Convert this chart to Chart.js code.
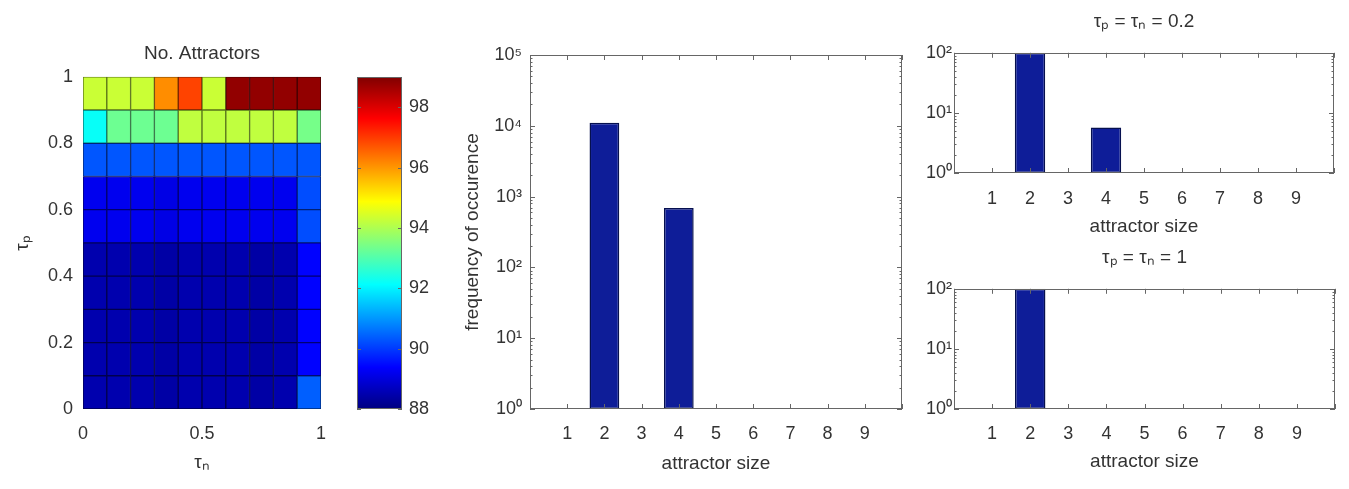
<!DOCTYPE html>
<html>
<head>
<meta charset="utf-8">
<title>No. Attractors</title>
<script src="https://cdn.jsdelivr.net/npm/chart.js@4"></script>
<style>
  body { margin: 0; background: #fff; }
  #wrap { position: relative; width: 1349px; height: 489px; overflow: hidden; }
  .panel { position: absolute; }
  .panel canvas { display: block; }
</style>
</head>
<body>
<div id="wrap">
  <div class="panel" style="left:0;top:0"><canvas id="heatmap" width="345" height="489"></canvas></div>
  <div class="panel" style="left:345px;top:0"><canvas id="colorbar" width="110" height="489"></canvas></div>
  <div class="panel" style="left:455px;top:0"><canvas id="freq-all" width="465" height="489"></canvas></div>
  <div class="panel" style="left:920px;top:0"><canvas id="freq-02" width="429" height="240"></canvas></div>
  <div class="panel" style="left:920px;top:240px"><canvas id="freq-1" width="429" height="249"></canvas></div>
</div>
<script>
// **********************************************
// Data

// cell edges of the tau_n / tau_p sweep
const tauNEdges = [0, 0.1, 0.2, 0.3, 0.4, 0.5, 0.6, 0.7, 0.8, 0.9, 1];
const tauPEdges = [0, 0.1, 0.2, 0.3, 0.4, 0.5, 0.6, 0.7, 0.8, 0.9, 1];

// number of attractors, one row per tau_p band (lowest band first),
// one column per tau_n band
const noAttractors = [
    [88.5, 88.5, 88.5, 88.4, 88.5, 88.5, 88.5, 88.4, 88.5, 90.4],
    [88.5, 88.5, 88.5, 88.4, 88.5, 88.5, 88.5, 88.4, 88.5, 89.4],
    [88.5, 88.5, 88.5, 88.4, 88.5, 88.5, 88.5, 88.4, 88.5, 89.4],
    [88.5, 88.5, 88.5, 88.4, 88.5, 88.5, 88.5, 88.4, 88.5, 89.4],
    [88.5, 88.5, 88.5, 88.4, 88.5, 88.5, 88.5, 88.4, 88.5, 89.4],
    [89.2, 89.2, 89.2, 89.1, 89.2, 89.2, 89.2, 89.2, 89.2, 90.2],
    [89.2, 89.2, 89.2, 89.1, 89.2, 89.2, 89.2, 89.2, 89.2, 90.2],
    [90.3, 90.3, 90.3, 90.3, 90.3, 90.3, 90.3, 90.3, 90.3, 90.3],
    [92.2, 93.3, 93.3, 93.3, 94.2, 94.2, 94.2, 94.2, 94.2, 93.4],
    [94.3, 94.3, 94.3, 96.1, 96.9, 94.3, 98.8, 98.8, 98.8, 98.8]
];

// colorbar limits and labels
const colorbarMin = 88;
const colorbarMax = 99;
const colorbarTicks = [88, 90, 92, 94, 96, 98];

// attractor size histograms
const attractorSizes = [1, 2, 3, 4, 5, 6, 7, 8, 9];
const freqAll = [0, 11000, 0, 690, 0, 0, 0, 0, 0];
const freqTau02 = [0, 100, 0, 5.7, 0, 0, 0, 0, 0];
const freqTau1 = [0, 100, 0, 0, 0, 0, 0, 0, 0];


// **********************************************
// Helpers

Chart.defaults.font.family = "'Liberation Sans', Arial, sans-serif";
Chart.defaults.font.size = 18;
Chart.defaults.color = '#333';

// matlab jet colormap
function jetRgb(v) {
    let t = (v - colorbarMin) / (colorbarMax - colorbarMin);
    t = Math.min(1, Math.max(0, t));
    const c = k => Math.min(1, Math.max(0, 1.5 - Math.abs(4 * t - k)));
    return [c(3), c(2), c(1)];
}
function jet(v, shade) {
    const s = shade || 1;
    const [r, g, b] = jetRgb(v).map(x => Math.round(255 * x * s));
    return `rgb(${r},${g},${b})`;
}

// 10^n labels for log axes
const sup = ['\u2070', '\u00b9', '\u00b2', '\u00b3', '\u2074', '\u2075', '\u2076'];
function powerLabel(v) {
    const e = Math.round(Math.log10(v));
    if (Math.abs(v - Math.pow(10, e)) > 1e-6 * v) return '';
    return '10' + sup[e];
}
function wholeSignificand(v) {
    const s = v / Math.pow(10, Math.floor(Math.log10(v) + 1e-9));
    return Math.abs(s - Math.round(s)) < 1e-6;
}
const plainNumber = v => String(Number(v.toFixed(2)));

// boxed axes with inward ticks, like matlab
const matlabAxes = {
    id: 'matlabAxes',
    defaults: { show: false, color: '#666', tickLength: 5, minor: false },
    afterDatasetsDraw(chart, args, opts) {
        if (!opts.show) return;
        const { ctx, chartArea: area, scales } = chart;
        const len = opts.tickLength;
        ctx.save();
        ctx.strokeStyle = opts.color;
        ctx.lineWidth = 1;
        ctx.beginPath();
        if (scales.x.options.display) {
            for (const tick of scales.x.ticks) {
                const px = Math.round(scales.x.getPixelForValue(tick.value)) + 0.5;
                ctx.moveTo(px, area.bottom); ctx.lineTo(px, area.bottom - len);
                ctx.moveTo(px, area.top); ctx.lineTo(px, area.top + len);
            }
        }
        for (const tick of scales.y.ticks) {
            let l;
            if (tick.label !== '') l = len;
            else if (opts.minor && wholeSignificand(tick.value)) l = len / 2;
            else continue;
            const py = Math.round(scales.y.getPixelForValue(tick.value)) + 0.5;
            ctx.moveTo(area.left, py); ctx.lineTo(area.left + l, py);
            ctx.moveTo(area.right, py); ctx.lineTo(area.right - l, py);
        }
        ctx.stroke();
        ctx.strokeRect(Math.round(area.left) + 0.5, Math.round(area.top) + 0.5,
            Math.round(area.width) - 1, Math.round(area.height) - 1);
        ctx.restore();
    }
};
Chart.register(matlabAxes);

const fixWidth = w => scale => { scale.width = w; };
const fixHeight = h => scale => { scale.height = h; };
const noGrid = { display: false, drawTicks: false };


// **********************************************
// Heatmap (No. Attractors)

let heatDatasets = [];
for (let r = 0; r < noAttractors.length; r++) {
    heatDatasets.push({
        data: noAttractors[r].map((v, c) => ({
            x: (tauNEdges[c] + tauNEdges[c + 1]) / 2,
            y: [tauPEdges[r], tauPEdges[r + 1]]
        })),
        backgroundColor: noAttractors[r].map(v => jet(v)),
        borderColor: noAttractors[r].map(v => jet(v, 0.45)),
        borderWidth: 1,
        borderSkipped: false,
        grouped: false,
        barPercentage: 1,
        categoryPercentage: 1
    });
}

let heatChart = new Chart(document.getElementById('heatmap'), {
    type: 'bar',
    data: { datasets: heatDatasets },
    options: {
        responsive: false,
        animation: false,
        events: [],
        layout: { padding: { left: 0, right: 24, top: 0, bottom: 0 } },
        plugins: {
            legend: { display: false },
            tooltip: { enabled: false },
            title: {
                display: true,
                fullSize: false,
                text: 'No. Attractors',
                font: { size: 19, weight: 'normal' },
                padding: { top: 42, bottom: 12 }
            }
        },
        scales: {
            x: {
                type: 'linear', min: 0, max: 1, offset: false,
                grid: noGrid, border: { display: false },
                ticks: { stepSize: 0.5, padding: 14, callback: plainNumber },
                title: { display: true, text: '\u03c4\u2099', font: { size: 19 }, padding: { bottom: 15 } },
                afterFit: fixHeight(80)
            },
            y: {
                min: 0, max: 1,
                grid: noGrid, border: { display: false },
                ticks: { stepSize: 0.2, padding: 10, callback: plainNumber },
                title: { display: true, text: '\u03c4\u209a', font: { size: 19 }, padding: { top: 11 } },
                afterFit: fixWidth(83)
            }
        }
    }
});


// **********************************************
// Colorbar

function jetGradient(context) {
    const area = context.chart.chartArea;
    if (!area) return 'blue';
    const g = context.chart.ctx.createLinearGradient(0, area.bottom, 0, area.top);
    const stops = [0, 0.125, 0.375, 0.625, 0.875, 1];
    for (const s of stops) {
        g.addColorStop(s, jet(colorbarMin + s * (colorbarMax - colorbarMin)));
    }
    return g;
}

let colorbarChart = new Chart(document.getElementById('colorbar'), {
    type: 'bar',
    data: {
        labels: [''],
        datasets: [{
            data: [[colorbarMin, colorbarMax]],
            backgroundColor: jetGradient,
            borderWidth: 0,
            barPercentage: 1,
            categoryPercentage: 1
        }]
    },
    options: {
        responsive: false,
        animation: false,
        events: [],
        layout: { padding: { left: 12, right: 0, top: 77, bottom: 80 } },
        plugins: {
            legend: { display: false },
            tooltip: { enabled: false },
            matlabAxes: { show: true, tickLength: 4 }
        },
        scales: {
            x: { display: false },
            y: {
                position: 'right', min: colorbarMin, max: colorbarMax,
                grid: noGrid, border: { display: false },
                ticks: {
                    stepSize: 2, padding: 7,
                    callback: v => colorbarTicks.includes(v) ? v : ''
                },
                afterFit: fixWidth(53)
            }
        }
    }
});


// **********************************************
// Attractor size histograms (log scale)

function makeFreqChart(id, values, cfg) {
    return new Chart(document.getElementById(id), {
        type: 'bar',
        data: {
            datasets: [{
                data: attractorSizes.map((s, i) => ({ x: s, y: values[i] > 0 ? values[i] : null })),
                backgroundColor: '#0e1d98',
                borderColor: '#06104f',
                borderWidth: 1.5,
                borderSkipped: false,
                barPercentage: 0.8,
                categoryPercentage: 1
            }]
        },
        options: {
            responsive: false,
            animation: false,
            events: [],
            layout: { padding: cfg.padding },
            plugins: {
                legend: { display: false },
                tooltip: { enabled: false },
                title: cfg.title ? {
                    display: true,
                    fullSize: false,
                    text: cfg.title,
                    font: { size: 19, weight: 'normal' },
                    padding: cfg.titlePadding
                } : { display: false },
                matlabAxes: { show: true, minor: true, tickLength: 5 }
            },
            scales: {
                x: {
                    type: 'linear', min: 0, max: 10, offset: false,
                    grid: noGrid, border: { display: false },
                    ticks: {
                        stepSize: 1, padding: cfg.xTickPad,
                        callback: v => (v >= 1 && v <= 9) ? v : ''
                    },
                    title: { display: true, text: 'attractor size', font: { size: 19 }, padding: { bottom: cfg.xTitlePad } },
                    afterFit: fixHeight(cfg.xHeight)
                },
                y: {
                    type: 'logarithmic', min: 1, max: cfg.yMax,
                    grid: noGrid, border: { display: false },
                    ticks: { autoSkip: false, padding: cfg.yTickPad, callback: powerLabel },
                    title: cfg.yTitle ? { display: true, text: cfg.yTitle, font: { size: 19 }, padding: { top: 6 } } : { display: false },
                    afterFit: fixWidth(cfg.yWidth)
                }
            }
        }
    });
}

let freqAllChart = makeFreqChart('freq-all', freqAll, {
    padding: { left: 0, right: 18, top: 55, bottom: 0 },
    yMax: 100000, yWidth: 75, yTickPad: 8, yTitle: 'frequency of occurence',
    xHeight: 80, xTickPad: 14, xTitlePad: 14
});

let freq02Chart = makeFreqChart('freq-02', freqTau02, {
    padding: { left: 0, right: 12, top: 0, bottom: 0 },
    title: '\u03c4\u209a = \u03c4\u2099 = 0.2', titlePadding: { top: 10, bottom: 20 },
    yMax: 100, yWidth: 34, yTickPad: 2,
    xHeight: 67, xTickPad: 15, xTitlePad: 2
});

let freq1Chart = makeFreqChart('freq-1', freqTau1, {
    padding: { left: 0, right: 12, top: 0, bottom: 0 },
    title: '\u03c4\u209a = \u03c4\u2099 = 1', titlePadding: { top: 6, bottom: 20 },
    yMax: 100, yWidth: 34, yTickPad: 2,
    xHeight: 80, xTickPad: 14, xTitlePad: 16
});
</script>
</body>
</html>
